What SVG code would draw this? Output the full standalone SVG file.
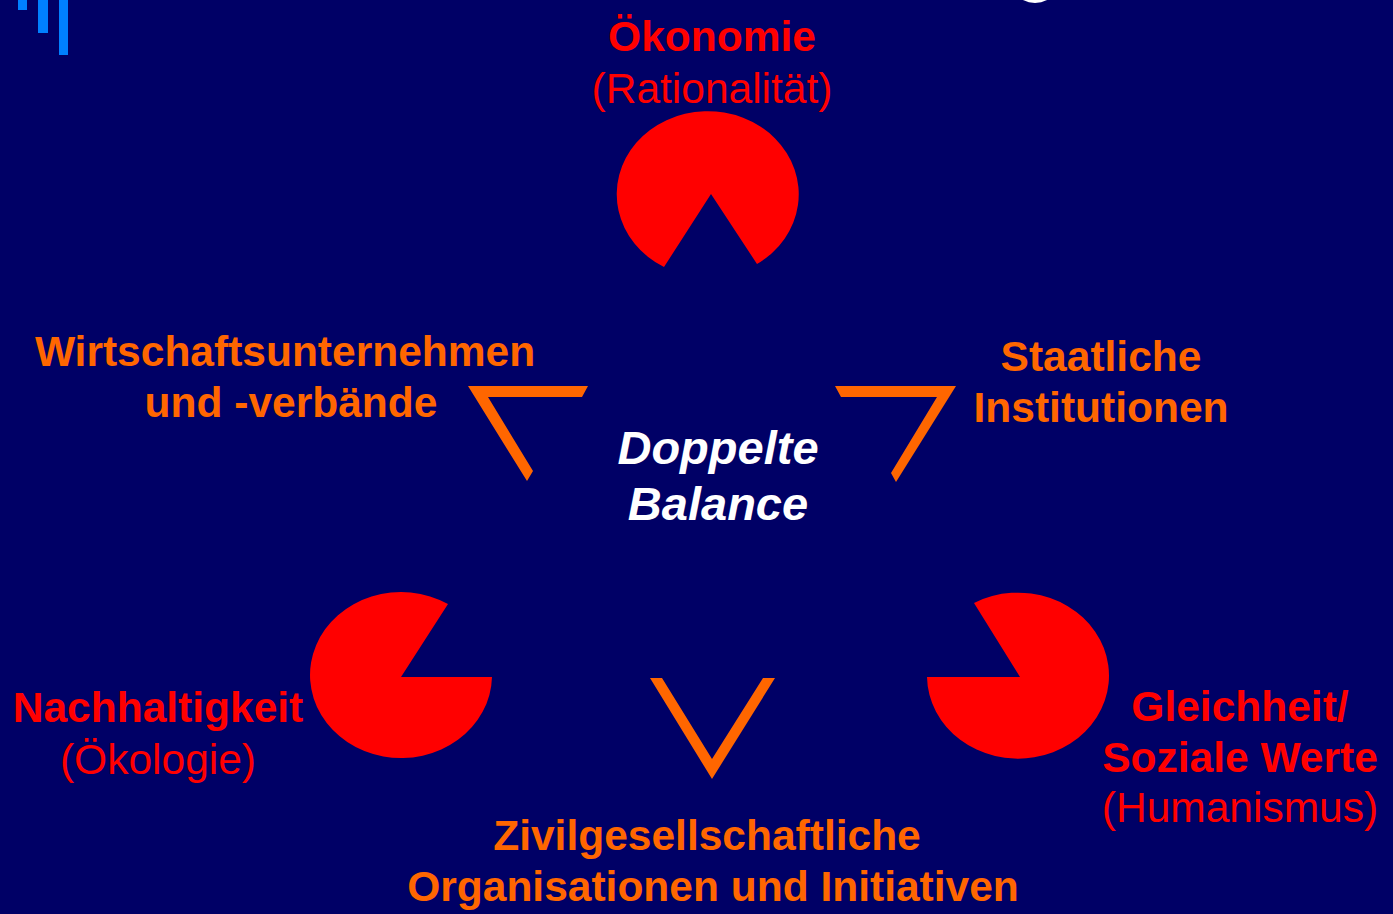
<svg xmlns="http://www.w3.org/2000/svg" width="1393" height="914" viewBox="0 0 1393 914">
<style>
text{font-family:"Liberation Sans",Arial,sans-serif;font-size:42.5px;text-anchor:middle}
.b{font-weight:bold}
.red{fill:#FF0000}
.org{fill:#FF6600}
.pac{fill:#FF0000}
.chev{fill:#FF6600}
.ctr{fill:#FFFFFF;font-weight:bold;font-style:italic;font-size:47px}
</style>
<rect x="0" y="0" width="1393" height="914" fill="#000066"/>
<g id="deco">
<rect x="18" y="0" width="9" height="10" fill="#0080FF"/>
<rect x="38" y="0" width="10" height="33" fill="#0080FF"/>
<rect x="59" y="0" width="9" height="55" fill="#0080FF"/>
<ellipse cx="1035" cy="-6" rx="16" ry="9" fill="#FFFFFF"/>
</g>
<g id="oekonomie">
<path class="pac" d="M711,194 L757,264 A91 83 0 1 0 664,267 Z"/>
<text class="red b" x="712" y="51">Ökonomie</text>
<text class="red" x="712" y="103">(Rationalität)</text>
</g>
<g id="nachhaltigkeit">
<path class="pac" d="M401,677 L492,677 A91 83 0 1 1 448,604 Z"/>
<text class="red b" x="158" y="722">Nachhaltigkeit</text>
<text class="red" x="158" y="774">(Ökologie)</text>
</g>
<g id="gleichheit">
<path class="pac" d="M1020,677 L927,677 A91 83 0 1 0 974,603 Z"/>
<text class="red b" x="1240" y="721">Gleichheit/</text>
<text class="red b" x="1240" y="772">Soziale Werte</text>
<text class="red" x="1240" y="822">(Humanismus)</text>
</g>
<g id="wirtschaft">
<polygon class="chev" points="468,386 588,386 582,397 488,397 533,471 527,481"/>
<text class="org b" x="285" y="366">Wirtschaftsunternehmen</text>
<text class="org b" x="291" y="417">und -verbände</text>
</g>
<g id="staat">
<polygon class="chev" points="835,386 956,386 896,482 891,473 937,397 841,397"/>
<text class="org b" x="1101" y="371">Staatliche</text>
<text class="org b" x="1101" y="422">Institutionen</text>
</g>
<g id="zivil">
<polygon class="chev" points="650,678 662,678 712,759 763,678 775,678 712,779"/>
<text class="org b" x="707" y="850">Zivilgesellschaftliche</text>
<text class="org b" x="713" y="901">Organisationen und Initiativen</text>
</g>
<g id="balance">
<text class="ctr" x="718" y="464">Doppelte</text>
<text class="ctr" x="718" y="520">Balance</text>
</g>
<g id="connectors"></g>
</svg>
